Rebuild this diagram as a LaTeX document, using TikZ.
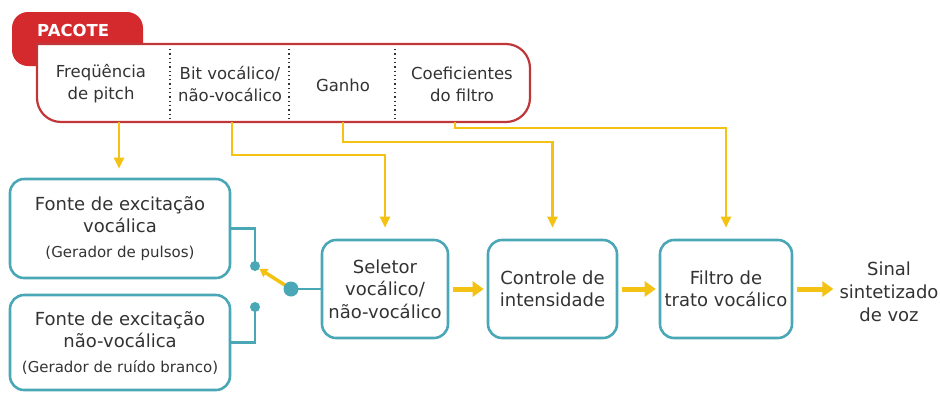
\documentclass[tikz,border=0pt]{standalone}
\usepackage{fontspec}
\setmainfont{DejaVu Sans}
\usetikzlibrary{arrows.meta}
\definecolor{tealc}{HTML}{4AA8B6}
\definecolor{redc}{HTML}{D42A2E}
\definecolor{redl}{HTML}{C0373A}
\definecolor{yel}{HTML}{F3C212}
\definecolor{txt}{HTML}{333333}
\begin{document}
\begin{tikzpicture}[x=1pt,y=-1pt,
  box/.style={draw=tealc, line width=2.6pt, rounded corners=14pt, fill=white, align=center, text=txt,
    font=\fontsize{18}{22.5}\selectfont, inner sep=0pt},
  field/.style={align=center, text=txt, font=\fontsize{16.5}{22}\selectfont, inner sep=0pt},
  outtxt/.style={align=center, text=txt, font=\fontsize{18}{23}\selectfont, inner sep=0pt},
  feed/.style={draw=yel, line width=2.4pt, -{Triangle[length=11pt,width=10pt]}},
  flow/.style={draw=yel, line width=5pt, -{Triangle[length=11pt,width=15pt]}},
  wire/.style={draw=tealc, line width=2.2pt},
  sdot/.style={circle, fill=tealc, inner sep=0pt, minimum size=10pt},
  bdot/.style={circle, fill=tealc, inner sep=0pt, minimum size=15pt},
  sep/.style={draw=txt, line width=1.3pt, dash pattern=on 1.3pt off 3pt},
]
\useasboundingbox (0,0) rectangle (940,392);

% PACOTE tab and box
\fill[redc, rounded corners=16pt] (12,66) -- (12,12) -- (143,12) -- (143,66) -- cycle;
\node[text=white, font=\bfseries\fontsize{16.5}{19}\selectfont, anchor=west, inner sep=0pt] (tab) at (37,30) {PACOTE};
\draw[redl, line width=2.2pt, fill=white, line cap=rect] (37,44) -- (37,100) [rounded corners=24pt] -- (37,122) -- (530,122) -- (530,44) -- (37,44);

\draw[sep] (170,49) -- (170,118);
\draw[sep] (289,49) -- (289,118);
\draw[sep] (395,49) -- (395,118);

\node[field] (f1) at (101,84) {Freqüência\\de pitch};
\node[field] (f2) at (230,84) {Bit vocálico/\\não-vocálico};
\node[field] (f3) at (343,85) {Ganho};
\node[field] (f4) at (462,84) {Coeficientes\\do filtro};

\coordinate (p1) at (119,122);
\coordinate (p2) at (232,122);
\coordinate (p3) at (343,122);
\coordinate (p4) at (455,122);

% boxes
\node[box, minimum width=220pt, minimum height=99pt] (vs) at (120,228.5)
  {Fonte de excitação\\vocálica\\[2pt]{\fontsize{15}{18}\selectfont (Gerador de pulsos)}};
\node[box, minimum width=220pt, minimum height=95pt] (vn) at (120,342.5)
  {Fonte de excitação\\não-vocálica\\[2pt]{\fontsize{15}{18}\selectfont (Gerador de ruído branco)}};
\node[box, minimum width=126pt, minimum height=98pt] (sel) at (385,289) {Seletor\\vocálico/\\não-vocálico};
\node[box, minimum width=129pt, minimum height=98pt] (ctl) at (552.5,289) {Controle de\\intensidade};
\node[box, minimum width=132pt, minimum height=98pt] (flt) at (726,289) {Filtro de\\trato vocálico};
\node[outtxt] (out) at (889,292) {Sinal\\sintetizado\\de voz};

% feeds from the packet
\draw[feed, shorten >=9pt] (p1) -- (p1 |- vs.north);
\draw[feed, shorten >=11pt] (p2) -- ++(0,33) -| (sel.north);
\draw[feed, shorten >=11pt] (p3) -- ++(0,20) -| (ctl.north);
\draw[feed, shorten >=11pt] (p4) -- ++(0,6) -| (flt.north);

% main flow
\draw[flow, shorten <=4pt, shorten >=3pt] (sel) -- (ctl);
\draw[flow, shorten <=4pt, shorten >=3pt] (ctl) -- (flt);
\draw[flow, shorten <=4pt, shorten >=6pt] (flt) -- (flt.east -| out.west);

% switch
\coordinate (da) at (255,266);
\coordinate (db) at (255,307);
\coordinate (dc) at (291,289);
\draw[wire] (vs.east) -| (da);
\draw[wire] (vn.east) -| (db);
\draw[wire] (dc) -- (sel.west);
\draw[draw=yel, line width=3.5pt, -{Triangle[length=8pt,width=9pt]}, shorten >=5pt] (dc) -- (da);
\node[sdot] (na) at (da) {};
\node[sdot] (nb) at (db) {};
\node[bdot] (nc) at (dc) {};
\end{tikzpicture}
\end{document}
